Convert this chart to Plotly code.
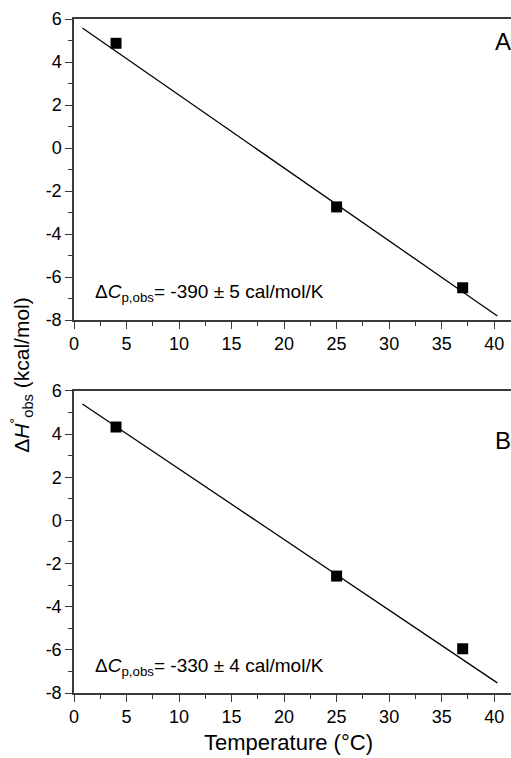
import plotly.graph_objects as go

temps = [4, 25, 37]
dH_A = [4.87, -2.74, -6.5]
dH_B = [4.33, -2.58, -5.95]
fit_T = [0.8, 40.3]
fit_A = [5.58, -7.81]
fit_B = [5.4, -7.53]
x_range = [0, 41.6]
y_range = [-8, 6]
x_ticks = [0, 5, 10, 15, 20, 25, 30, 35, 40]
y_ticks = [-8, -6, -4, -2, 0, 2, 4, 6]
x_ticklabels = ["0", "5", "10", "15", "20", "25", "30", "35", "40"]
y_ticklabels = ["-8", "-6", "-4", "-2", "0", "2", "4", "6"]
panel_labels = ["A", "B"]
cp_texts = ["Δ<i>C</i><sub>p,obs</sub>= -390 ± 5 cal/mol/K",
            "Δ<i>C</i><sub>p,obs</sub>= -330 ± 4 cal/mol/K"]

FONT = "Liberation Sans, Arial, sans-serif"
AXC = "#3a3a3a"

fig = go.Figure()
for i, (ys, fy) in enumerate([(dH_A, fit_A), (dH_B, fit_B)]):
    xa = "x" if i == 0 else "x2"
    ya = "y" if i == 0 else "y2"
    fig.add_trace(go.Scatter(x=fit_T, y=fy, mode="lines", xaxis=xa, yaxis=ya,
                             line=dict(color="black", width=1.3), showlegend=False))
    fig.add_trace(go.Scatter(x=temps, y=ys, mode="markers", xaxis=xa, yaxis=ya,
                             marker=dict(symbol="square", size=11, color="black",
                                         line=dict(width=0)), showlegend=False))

axis_common = dict(showline=True, linecolor=AXC, linewidth=1.5, ticks="outside",
                   ticklen=7, tickwidth=1.3, tickcolor=AXC, showgrid=False, zeroline=False,
                   tickfont=dict(family=FONT, size=18, color="black"))
xcommon = dict(axis_common, range=x_range, tickmode="array", tickvals=x_ticks,
               ticktext=x_ticklabels, mirror=True,
               minor=dict(dtick=2.5, tick0=0, ticklen=4, ticks="outside", tickcolor=AXC, tickwidth=1.3))
ycommon = dict(axis_common, range=y_range, tickmode="array", tickvals=y_ticks,
               ticktext=y_ticklabels,
               minor=dict(dtick=1, tick0=0, ticklen=4, ticks="outside", tickcolor=AXC, tickwidth=1.3))

fig.update_layout(
    width=511, height=758,
    margin=dict(l=74, r=0, t=19, b=65),
    paper_bgcolor="white", plot_bgcolor="white",
    xaxis=dict(xcommon, domain=[0, 1], anchor="y"),
    yaxis=dict(ycommon, domain=[0.5534, 1.0], anchor="x"),
    xaxis2=dict(xcommon, domain=[0, 1], anchor="y2"),
    yaxis2=dict(ycommon, domain=[0.0, 0.4481], anchor="x2"),
)

annotations = []
for i in range(2):
    xr = "x" if i == 0 else "x2"
    yr = "y" if i == 0 else "y2"
    annotations.append(dict(x=40.8, y=4.95 if i == 0 else 3.7, xref=xr, yref=yr,
                            text=panel_labels[i], showarrow=False, xanchor="center", yanchor="middle",
                            font=dict(family=FONT, size=24, color="black")))
    annotations.append(dict(x=1.8, y=-6.75 if i == 0 else -6.8, xref=xr, yref=yr,
                            text=cp_texts[i], showarrow=False, xanchor="left", yanchor="middle",
                            font=dict(family=FONT, size=19, color="black")))
annotations.append(dict(x=-0.119, y=0.472, xref="paper", yref="paper",
                        text="Δ<i>H</i><sup>°</sup><sub>obs</sub> (kcal/mol)", textangle=-90,
                        showarrow=False, xanchor="center", yanchor="middle",
                        font=dict(family=FONT, size=21, color="black")))
annotations.append(dict(x=0.49, y=-0.074, xref="paper", yref="paper",
                        text="Temperature (°C)", showarrow=False, xanchor="center", yanchor="middle",
                        font=dict(family=FONT, size=22, color="black")))
fig.update_layout(annotations=annotations)

fig.write_html("out.html")
